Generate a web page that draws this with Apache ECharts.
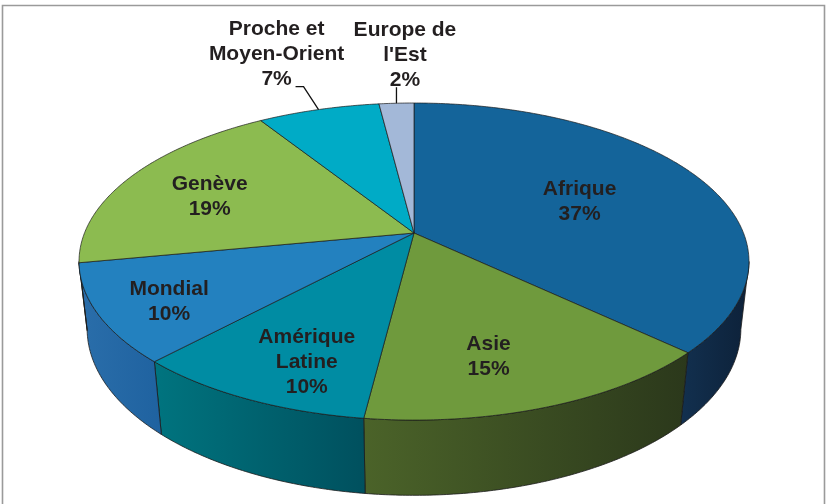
<!DOCTYPE html>
<html><head><meta charset="utf-8">
<script src="https://cdn.jsdelivr.net/npm/echarts@6/dist/echarts.min.js"></script>
<style>html,body{margin:0;padding:0;background:#fff}#c{width:829px;height:504px}</style>
</head><body><div id="c"></div>
<script>
// ---- data ----
const categories = ['Afrique', 'Asie', 'Amérique\nLatine', 'Mondial', 'Genève', 'Proche et\nMoyen-Orient', "Europe de\nl'Est"];
const values = [37, 15, 10, 10, 19, 7, 2];

// ---- styles ----
const topColors = ['#14649a', '#6f9a3d', '#008ca3', '#2381bf', '#8cbb50', '#00abc6', '#a3b8d8'];
const sideColors = [['#12304f', '#0d2139'], ['#4b6329', '#2b381b'], ['#00747f', '#00505e'], ['#2a6eaa', '#1f62a0'],
                    ['#6f9a3d', '#5a7f30'], ['#0089a0', '#007085'], ['#8296b4', '#6b7f9c']];

// ---- layout (perspective pie geometry) ----
const GEO = { cx: 414, cy: 233, rx: 329.5, ry: 153.4, persp: 0.18, shrink: 0.024, depth: 68 };
// radial fractions [horizontal, vertical] for inside labels
const labelFrac = [[0.57, 0.53], [0.60, 0.75], [0.68, 0.81], [0.79, 0.86], [0.71, 0.63], null, null];
const outsideLabel = {
  5: { dx: -42, dy: -55, leader: [[0, 0], [-15, -23], [-23, -23]] },
  6: { dx: 8.5, dy: -48, leader: [[0, 0], [0, -16]] }
};

function proj(theta, f, bottom) {
  const u = f * Math.sin(theta), v = -f * Math.cos(theta);
  const w = 1 - GEO.persp * v + (bottom ? GEO.shrink : 0);
  return [GEO.cx + GEO.rx * u / w, GEO.cy + (GEO.ry * v + (bottom ? GEO.depth : 0)) / w];
}

const total = values.reduce((a, b) => a + b, 0);
const silA = Math.acos(-GEO.persp), silB = 2 * Math.PI - Math.acos(-GEO.persp);
const FONT = 'bold 21px "Liberation Sans", Arial, sans-serif';

function renderItem(params, api) {
  const i = params.dataIndex;
  const val = api.value(0);
  let before = 0;
  for (let k = 0; k < i; k++) before += values[k];
  const a0 = before / total * 2 * Math.PI, a1 = (before + val) / total * 2 * Math.PI;
  const children = [];
  const step = Math.PI / 360;

  // outer wall (visible front portion)
  const v0 = Math.max(a0, silA), v1 = Math.min(a1, silB);
  if (v1 > v0) {
    const n = Math.max(2, Math.ceil((v1 - v0) / step));
    const pts = [];
    for (let j = 0; j <= n; j++) pts.push(proj(v0 + (v1 - v0) * j / n, 1, false));
    for (let j = n; j >= 0; j--) pts.push(proj(v0 + (v1 - v0) * j / n, 1, true));
    children.push({
      type: 'polygon', z2: 1, shape: { points: pts },
      style: {
        fill: new echarts.graphic.LinearGradient(0, 0, 1, 0, [
          { offset: 0, color: sideColors[i][0] }, { offset: 1, color: sideColors[i][1] }]),
        stroke: '#1a1a1a', lineWidth: 0.8
      }
    });
  }

  // top face
  const n = Math.max(2, Math.ceil((a1 - a0) / step));
  const top = [proj(0, 0, false)];
  for (let j = 0; j <= n; j++) top.push(proj(a0 + (a1 - a0) * j / n, 1, false));
  children.push({
    type: 'polygon', z2: 10, shape: { points: top },
    style: { fill: topColors[i], stroke: '#1a1a1a', lineWidth: 0.7 }
  });

  // label
  const mid = (a0 + a1) / 2;
  const text = categories[i] + '\n' + Math.round(val / total * 100) + '%';
  let lx, ly;
  if (labelFrac[i] != null) {
    lx = proj(mid, labelFrac[i][0], false)[0];
    ly = proj(mid, labelFrac[i][1], false)[1];
  } else {
    const e = proj(mid, 1, false);
    const o = outsideLabel[i];
    lx = e[0] + o.dx; ly = e[1] + o.dy;
    children.push({
      type: 'polyline', z2: 15,
      shape: { points: o.leader.map(p => [e[0] + p[0], e[1] + p[1]]) },
      style: { stroke: '#111', lineWidth: 1.3, fill: null }
    });
  }
  children.push({
    type: 'text', z2: 20, x: lx, y: ly,
    style: { text: text, font: FONT, fill: '#231f20', align: 'center', verticalAlign: 'middle', lineHeight: 25 }
  });
  return { type: 'group', children: children };
}

const chart = echarts.init(document.getElementById('c'), null, { renderer: 'canvas' });
chart.setOption({
  animation: false,
  backgroundColor: '#ffffff',
  graphic: [{
    type: 'polyline', silent: true,
    shape: { points: [[2.5, 504], [2.5, 5.5], [824.5, 5.5], [824.5, 504]] },
    style: { stroke: '#9a9a9a', lineWidth: 1.6, fill: null }
  }],
  series: [{
    type: 'custom',
    coordinateSystem: 'none',
    renderItem: renderItem,
    silent: true,
    data: values.map((v, i) => ({ name: categories[i], value: [v] }))
  }]
});
</script>
</body></html>
